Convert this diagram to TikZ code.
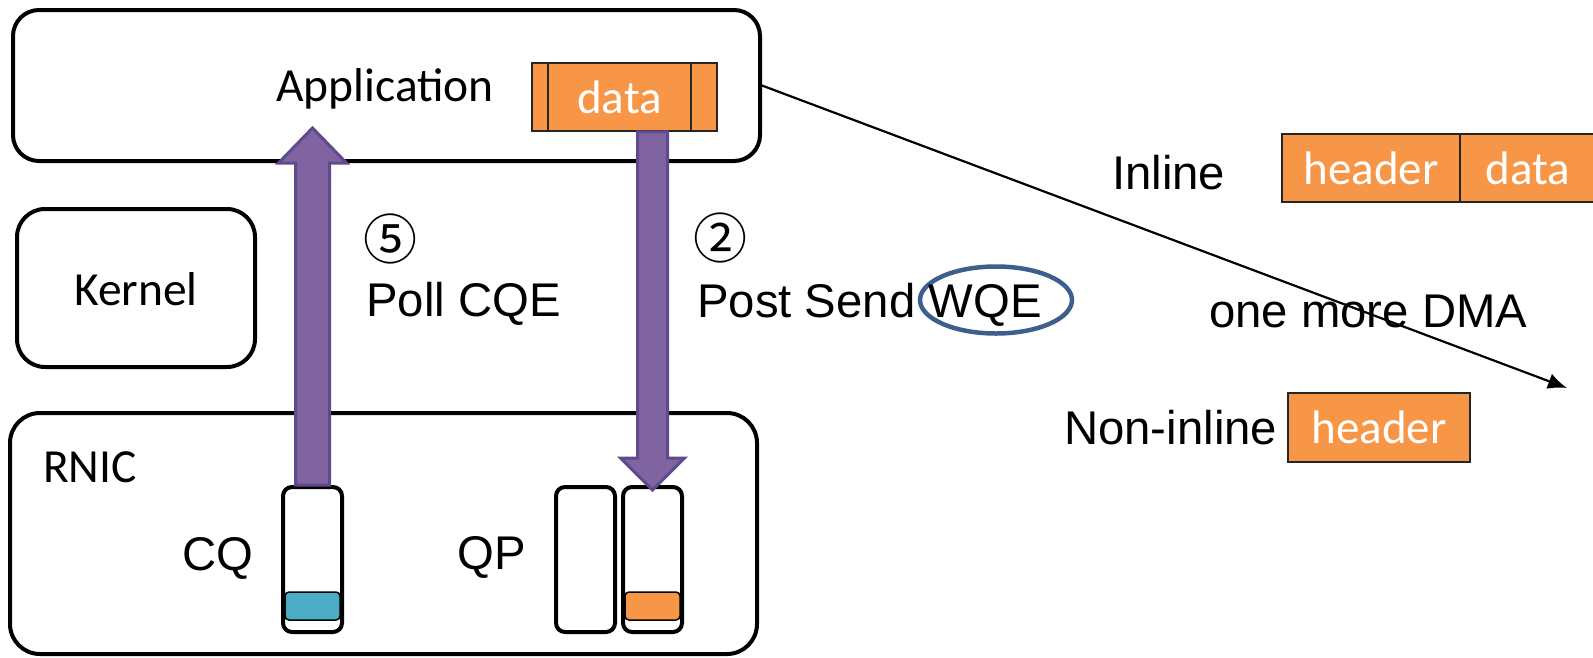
\documentclass[tikz,border=0pt]{standalone}
\usepackage{fontspec}
\setmainfont{Liberation Sans}
\newfontfamily\calibrifont{Carlito}
\newfontfamily\symbfont{Noto Sans CJK SC}
\usetikzlibrary{calc,arrows.meta,shapes.geometric}
\definecolor{orangeF}{HTML}{F79646}
\definecolor{blueC}{HTML}{4BACC6}
\definecolor{purpA}{HTML}{8064A2}
\definecolor{purpB}{HTML}{5F4B8B}
\definecolor{ellB}{HTML}{3D5F8E}
\tikzset{
 layer/.style={draw=black, line width=4pt, rounded corners=26pt, inner sep=0pt},
 queuebox/.style={draw=black, line width=4pt, rounded corners=9pt, inner sep=0pt, minimum width=59pt, minimum height=145pt},
 entry/.style={draw=black, line width=1.5pt, rounded corners=4pt, inner sep=0pt, minimum width=55pt, minimum height=28pt},
 lbl/.style={anchor=base west, inner sep=0pt, font=\fontsize{47.3}{50}\selectfont},
 clbl/.style={anchor=base west, inner sep=0pt, font=\calibrifont\fontsize{47.5}{50}\selectfont},
 cell/.style={draw=black!85, fill=orangeF, line width=1.5pt, inner sep=0pt, text=white, font=\calibrifont\fontsize{47}{50}\selectfont},
 fatarrow/.style={fill=purpA, draw=purpB, line width=3pt, line join=miter},
 num/.style={anchor=center, inner sep=0pt, font=\symbfont\fontsize{54}{54}\selectfont},
}
\begin{document}
\begin{tikzpicture}[x=1pt,y=-1pt]
\useasboundingbox (0,0) rectangle (1593,657);
\clip (0,0) rectangle (1593,657);
% layers
\node[layer, minimum width=747pt, minimum height=151pt] (app) at (386.5,85.5) {};
\node[layer, rounded corners=28pt, minimum width=238pt, minimum height=158pt] (kernel) at (136,288) {};
\node[layer, rounded corners=30pt, minimum width=747pt, minimum height=241pt] (rnic) at (383.5,533.5) {};
\node[clbl] (applbl) at (276,101) {Application};
\node[clbl] (kernellbl) at (74,305) {Kernel};
\node[clbl] (rniclbl) at (43,482) {RNIC};
% data block
\node[cell, minimum width=16pt, minimum height=68pt] (dataL) at (540,97) {};
\node[cell, minimum width=143pt, minimum height=68pt] (dataM) at (619.5,97) {data};
\node[cell, minimum width=26pt, minimum height=68pt] (dataR) at (704,97) {};
% queues
\node[queuebox] (cq) at (312.5,559.5) {};
\node[queuebox] (qp1) at (585.5,559.5) {};
\node[queuebox] (qp2) at (652.5,559.5) {};
\node[entry, fill=blueC] (cqe) at (312.5,606) {};
\node[entry, fill=orangeF] (wqeentry) at (652.5,606) {};
\node[lbl] (cqlbl) at (182,570) {CQ};
\node[lbl] (qplbl) at (457,569) {QP};
% step labels
\node[num] (n5) at (390,239) {⑤};
\node[lbl] (poll) at (366,316) {Poll CQE};
\node[num] (n2) at (720,238) {②};
\node[ellipse, draw=ellB, line width=4.5pt, minimum width=152pt, minimum height=67pt, inner sep=0pt] (wqe) at (996,300) {};
\node[lbl] (post) at (697,317) {Post Send WQE};
% fat arrows
\draw[fatarrow] let \p1=(cq.north), \p2=($(cq.north |- app.south)$) in
 (\x1-17pt,\y1) -- (\x1-17pt,\y2) -- (\x1-34pt,\y2) -- (\x1,\y2+35pt) -- (\x1+34pt,\y2) -- (\x1+17pt,\y2) -- (\x1+17pt,\y1) -- cycle;
\draw[fatarrow] let \p1=($(qp2.north |- dataM.south)$), \p2=(qp2.north) in
 (\x1-15pt,\y1) -- (\x1-15pt,\y2+27pt) -- (\x1-32pt,\y2+27pt) -- (\x1,\y2-5pt) -- (\x1+32pt,\y2+27pt) -- (\x1+15pt,\y2+27pt) -- (\x1+15pt,\y1) -- cycle;
% right part
\node[lbl] (inline) at (1112,189) {Inline};
\node[cell, minimum width=178pt, minimum height=68pt] (inH) at (1371,168) {header};
\node[cell, minimum width=136pt, minimum height=68pt] (inD) at (1528,168) {data};
\node[lbl] (dma) at (1209,327) {one more DMA};
\node[lbl] (noninline) at (1064,444) {Non-inline};
\node[cell, minimum width=182pt, minimum height=69pt] (niH) at (1379,427.5) {header};
\coordinate (dmatip) at (1567,388);
\draw[line width=2.2pt, -{Latex[length=19pt,width=16pt]}] (app.east) -- (dmatip);
\end{tikzpicture}
\end{document}
